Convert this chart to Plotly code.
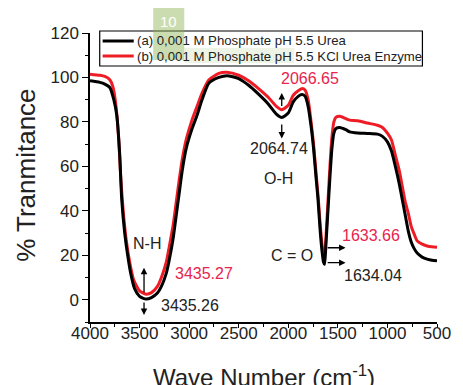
import plotly.graph_objects as go

# ---------------- data ----------------
wave_a = [4000, 3900, 3850, 3800, 3760, 3730, 3700, 3680, 3650, 3620, 3590, 3550, 3500, 3435,
          3380, 3320, 3280, 3230, 3200, 3160, 3130, 3100, 3070, 3030, 2970, 2920, 2870, 2800,
          2700, 2620, 2500, 2400, 2300, 2200, 2120, 2065, 2000, 1950, 1900, 1860, 1830, 1800,
          1770, 1745, 1720, 1700, 1680, 1660, 1645, 1634, 1620, 1600, 1580, 1560, 1540, 1520,
          1480, 1420, 1380, 1300, 1200, 1100, 1050, 1000, 960, 920, 880, 850, 820, 790, 760,
          730, 700, 650, 600, 550, 500]
trans_a = [98.5, 97.8, 97.0, 95.5, 90.0, 83.0, 65.0, 45.0, 30.0, 20.0, 12.0, 5.0, 1.5, 0.3,
           1.0, 3.0, 6.0, 12.0, 18.0, 28.0, 38.0, 48.0, 58.0, 68.0, 77.0, 83.0, 90.0, 97.5,
           100.0, 100.8, 99.5, 96.5, 92.5, 88.0, 83.5, 82.0, 84.0, 89.0, 91.5, 92.3, 91.5, 87.0,
           78.0, 68.0, 55.0, 45.0, 32.0, 22.0, 17.0, 16.0, 25.0, 40.0, 55.0, 68.0, 75.0, 77.0,
           77.5, 76.5, 75.5, 75.0, 74.8, 74.5, 73.5, 71.0, 67.0, 60.0, 52.0, 45.0, 38.0, 31.0, 26.0,
           23.0, 21.0, 19.2, 18.3, 17.8, 17.6]

wave_b = [4000, 3900, 3850, 3800, 3770, 3740, 3710, 3690, 3665, 3635, 3600, 3560, 3500, 3435,
          3380, 3320, 3280, 3230, 3200, 3160, 3130, 3100, 3070, 3030, 2970, 2920, 2870, 2800,
          2700, 2620, 2500, 2400, 2300, 2200, 2120, 2066, 2000, 1950, 1900, 1860, 1830, 1800,
          1770, 1745, 1720, 1700, 1680, 1660, 1645, 1634, 1620, 1600, 1580, 1560, 1540, 1520,
          1480, 1420, 1380, 1300, 1200, 1100, 1050, 1000, 960, 920, 880, 850, 820, 790, 760,
          730, 700, 650, 600, 550, 500]
trans_b = [101.5, 101.0, 100.5, 99.0, 96.0, 88.0, 72.0, 55.0, 40.0, 27.0, 17.0, 9.0, 4.0, 2.5,
           3.2, 6.0, 10.0, 17.0, 24.0, 34.0, 44.0, 54.0, 63.0, 72.0, 81.0, 87.0, 93.0, 99.0,
           101.8, 102.3, 101.0, 98.5, 95.0, 91.0, 87.0, 85.5, 87.5, 92.0, 94.0, 95.0, 94.3, 90.0,
           80.0, 70.0, 57.0, 47.0, 35.0, 25.0, 21.0, 20.0, 28.0, 44.0, 60.0, 73.0, 80.0, 82.0,
           82.5, 81.5, 80.8, 80.5, 79.5, 78.5, 77.5, 75.0, 72.0, 65.0, 58.0, 51.0, 44.0, 39.0, 33.0,
           29.5, 26.5, 25.0, 24.2, 23.8, 23.6]

name_a = "(a) 0,001 M Phosphate pH 5.5 Urea"
name_b = "(b) 0,001 M Phosphate pH 5.5 KCl Urea Enzyme"

x_ticks = [4000, 3500, 3000, 2500, 2000, 1500, 1000, 500]
y_ticks = [0, 20, 40, 60, 80, 100, 120]

FONT = "Liberation Sans, Arial, Helvetica, sans-serif"
RED = "#ee1c25"
TXT_RED = "#e8244e"
TXT = "#222222"

# page body has an 8px margin; figure is sized so the plot lands where the reference has it
OFF = 8
PL, PT, PW, PH = 90, 33, 357, 289   # plot area in window pixels


def px(X):
    return (X - PL) / PW


def py(Y):
    return (PT + PH - Y) / PH


fig = go.Figure()
fig.add_trace(go.Scatter(x=wave_b, y=trans_b, mode="lines", name=name_b,
                         line=dict(color=RED, width=3, shape="spline", smoothing=0.6)))
fig.add_trace(go.Scatter(x=wave_a, y=trans_a, mode="lines", name=name_a,
                         line=dict(color="black", width=3, shape="spline", smoothing=0.6)))


def txt(x, y, s, color=TXT, size=16):
    fig.add_annotation(x=x, y=y, text=s, showarrow=False, font=dict(family=FONT, size=size, color=color),
                       xanchor="center", yanchor="middle")


def arrow(x0, y0, x1, y1):
    fig.add_annotation(x=x1, y=y1, ax=x0, ay=y0, axref="x", ayref="y", xref="x", yref="y",
                       text="", showarrow=True, arrowhead=2, arrowsize=1, arrowwidth=1.3,
                       arrowcolor="black")


txt(1784, 99.5, "2066.65", TXT_RED)
arrow(2066, 86.5, 2066, 93)
arrow(2066, 79.5, 2066, 72.5)
txt(2098, 68, "2064.74")
txt(2098, 54.5, "O-H")
txt(3421, 25.2, "N-H")
arrow(3455, 2.7, 3455, 14.4)
arrow(3455, -0.5, 3455, -6.8)
txt(2853, 11.7, "3435.27", TXT_RED)
txt(2990, -2.7, "3435.26")
txt(1961, 19.8, "C = O")
txt(1167, 28.8, "1633.66", TXT_RED)
arrow(1618, 23.4, 1422, 23.4)
arrow(1618, 16.7, 1422, 16.7)
txt(1147, 10.8, "1634.04")

# axis titles
fig.add_annotation(x=px(268.5), y=py(376), xref="paper", yref="paper", showarrow=False,
                   text="Wave Number (cm<sup>-1</sup>)", xanchor="center", yanchor="middle",
                   font=dict(family=FONT, size=24, color=TXT))
fig.add_annotation(x=px(24), y=py(175), xref="paper", yref="paper", showarrow=False,
                   text="% Tranmitance", textangle=-90, xanchor="center", yanchor="middle",
                   font=dict(family=FONT, size=26, color=TXT))

# legend box (drawn by hand to match the compact reference legend)
fig.add_shape(type="rect", xref="paper", yref="paper", x0=px(100), x1=px(432), y0=py(66), y1=py(31),
              fillcolor="white", line=dict(color="black", width=1.2), layer="above")
fig.add_shape(type="line", xref="paper", yref="paper", x0=px(103), x1=px(135), y0=py(41), y1=py(41),
              line=dict(color="black", width=3), layer="above")
fig.add_shape(type="line", xref="paper", yref="paper", x0=px(103), x1=px(135), y0=py(56), y1=py(56),
              line=dict(color=RED, width=3), layer="above")
fig.add_annotation(x=px(136), y=py(41), xref="paper", yref="paper", text=name_a, showarrow=False,
                   xanchor="left", yanchor="middle", font=dict(family=FONT, size=13.2, color=TXT))
fig.add_annotation(x=px(136), y=py(56), xref="paper", yref="paper", text=name_b, showarrow=False,
                   xanchor="left", yanchor="middle", font=dict(family=FONT, size=13.2, color=TXT))

# page-number overlay box
fig.add_shape(type="rect", xref="paper", yref="paper", x0=px(155), x1=px(187), y0=py(60), y1=py(8),
              fillcolor="rgba(140,180,80,0.45)", line=dict(width=0), layer="above")
fig.add_shape(type="rect", xref="paper", yref="paper", x0=px(187), x1=px(300), y0=py(63), y1=py(48),
              fillcolor="rgba(140,180,80,0.15)", line=dict(width=0), layer="above")
fig.add_annotation(x=px(171), y=py(21), xref="paper", yref="paper", xanchor="center", yanchor="middle",
                   text="10", showarrow=False, font=dict(family=FONT, size=15, color="white"))

axis_common = dict(showline=True, linecolor="black", linewidth=1.5, showgrid=False, zeroline=False,
                   ticks="outside", tickwidth=1.3, tickcolor="black",
                   tickfont=dict(family=FONT, size=17, color=TXT))

fig.update_xaxes(range=[4000, 500], tickvals=x_ticks, ticklen=4, ticklabelstandoff=-9, **axis_common,
                 minor=dict(dtick=250, ticks="outside", ticklen=3, tickwidth=1.2, tickcolor="black"))
fig.update_yaxes(range=[-10, 120], tickvals=y_ticks, ticklen=6, **axis_common,
                 minor=dict(dtick=10, ticks="outside", ticklen=3, tickwidth=1.2, tickcolor="black"))

fig.update_layout(
    width=463 - OFF, height=385 - OFF,
    margin=dict(l=PL - OFF, r=16, t=PT - OFF, b=385 - (PT + PH)),
    paper_bgcolor="white", plot_bgcolor="white",
    showlegend=False,
)

fig.write_html("out.html")
